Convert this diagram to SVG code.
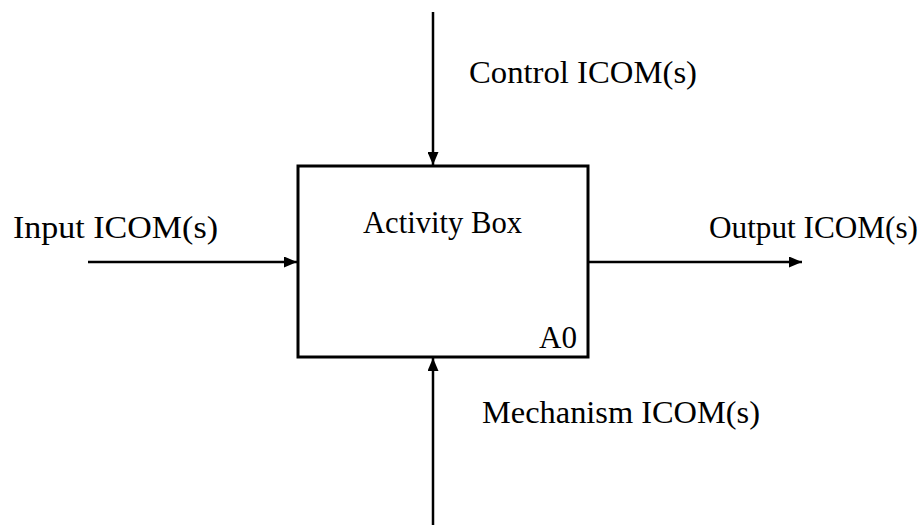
<svg xmlns="http://www.w3.org/2000/svg" width="922" height="525" viewBox="0 0 922 525">
<defs>
<marker id="ah" markerWidth="13" markerHeight="11" refX="13" refY="5.5" orient="auto" markerUnits="userSpaceOnUse">
<path d="M0,0 L13,5.5 L0,11 Z" fill="#000"/>
</marker>
<style>
text{font-family:"Liberation Serif","Times New Roman",serif;font-size:32px;fill:#000}
.ln{stroke:#000;stroke-width:2.5;fill:none}
</style>
</defs>
<rect width="922" height="525" fill="#fff"/>
<g id="activity-box">
<rect x="298" y="166" width="290" height="191" fill="#fff" stroke="#000" stroke-width="3"/>
<text x="363" y="233" textLength="159" lengthAdjust="spacingAndGlyphs">Activity Box</text>
<text x="539" y="348" style="font-size:31px" textLength="38" lengthAdjust="spacingAndGlyphs">A0</text>
</g>
<g id="connectors">
<line class="ln" x1="433" y1="12" x2="433" y2="165" marker-end="url(#ah)"/>
<line class="ln" x1="88" y1="262" x2="297" y2="262" marker-end="url(#ah)"/>
<line class="ln" x1="588" y1="262" x2="802" y2="262" marker-end="url(#ah)"/>
<line class="ln" x1="433" y1="525" x2="433" y2="358" marker-end="url(#ah)"/>
</g>
<g id="labels">
<text x="469" y="83" textLength="228" lengthAdjust="spacingAndGlyphs">Control ICOM(s)</text>
<text x="13" y="238" textLength="205" lengthAdjust="spacingAndGlyphs">Input ICOM(s)</text>
<text x="709" y="238" textLength="209" lengthAdjust="spacingAndGlyphs">Output ICOM(s)</text>
<text x="482" y="423" textLength="278" lengthAdjust="spacingAndGlyphs">Mechanism ICOM(s)</text>
</g>
</svg>
